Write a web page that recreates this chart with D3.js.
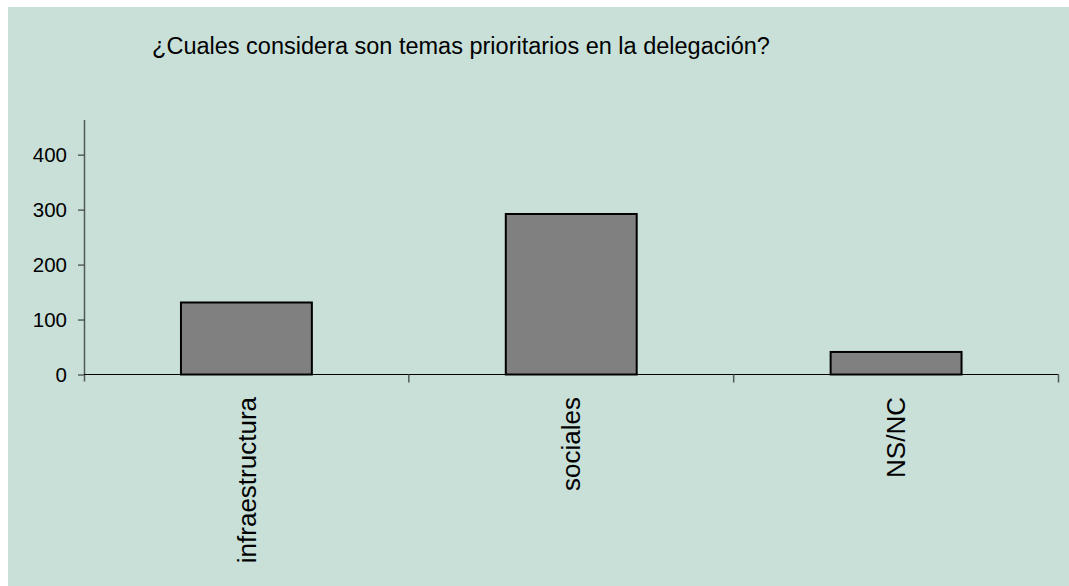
<!DOCTYPE html>
<html>
<head>
<meta charset="utf-8">
<script src="https://cdn.jsdelivr.net/npm/d3@7"></script>
<style>
  html, body { margin: 0; padding: 0; background: #ffffff; }
  svg { display: block; }
</style>
</head>
<body>
<svg id="chart" width="1069" height="586"></svg>
<script>
// Survey responses: priority topics for the delegation
const categories = ["infraestructura", "sociales", "NS/NC"];
const counts = [131, 292, 41];
const yTicks = [0, 100, 200, 300, 400];
const yMax = 463;
const title = "¿Cuales considera son temas prioritarios en la delegación?";

const svg = d3.select("#chart");
const W = 1069, H = 586;
const font = "Liberation Sans, Arial, Helvetica, sans-serif";

// panel background
svg.append("rect")
  .attr("x", 8).attr("y", 7)
  .attr("width", W - 8).attr("height", H - 7)
  .attr("fill", "#c9e0d9");

const plot = { left: 84, right: 1058.5, top: 120, bottom: 374.5 };

const x = d3.scaleBand()
  .domain(categories)
  .range([plot.left, plot.right])
  .paddingInner(0).paddingOuter(0);

const y = d3.scaleLinear()
  .domain([0, yMax])
  .range([plot.bottom, plot.top]);

// title
svg.append("text")
  .attr("x", 461).attr("y", 54)
  .attr("text-anchor", "middle")
  .attr("font-family", font)
  .attr("font-size", 23.5)
  .attr("fill", "#000")
  .text(title);

// bars
const barW = x.bandwidth() * 0.403;
svg.append("g").selectAll("rect")
  .data(categories.map((c, i) => ({ c, v: counts[i] })))
  .join("rect")
  .attr("x", d => x(d.c) + (x.bandwidth() - barW) / 2)
  .attr("y", d => y(d.v))
  .attr("width", barW)
  .attr("height", d => y(0) - y(d.v))
  .attr("fill", "#808080")
  .attr("stroke", "#000")
  .attr("stroke-width", 2);

// y axis
const yAxis = d3.axisLeft(y).tickValues(yTicks).tickSize(6).tickPadding(11);
const gy = svg.append("g")
  .attr("transform", `translate(${plot.left},0)`)
  .call(yAxis);
gy.select(".domain")
  .attr("d", `M0.5,${plot.top}V${plot.bottom + 7}`)
  .attr("stroke", "#4f5a57").attr("stroke-width", 1.5);
gy.selectAll(".tick line").attr("stroke", "#222");
gy.selectAll(".tick text")
  .attr("font-family", font).attr("font-size", 20.5).attr("fill", "#000");

// x axis: ticks at category boundaries
const gx = svg.append("g");
gx.append("line")
  .attr("x1", plot.left).attr("x2", plot.right)
  .attr("y1", plot.bottom).attr("y2", plot.bottom)
  .attr("stroke", "#000").attr("stroke-width", 1.2);
const bounds = categories.map(c => x(c)).concat([x(categories[categories.length - 1]) + x.bandwidth()]);
gx.selectAll("line.tk")
  .data(bounds.slice(1))
  .join("line")
  .attr("class", "tk")
  .attr("x1", d => d).attr("x2", d => d)
  .attr("y1", plot.bottom).attr("y2", plot.bottom + 8)
  .attr("stroke", "#4f5a57").attr("stroke-width", 1.5);

// category labels, rotated
gx.selectAll("text")
  .data(categories)
  .join("text")
  .attr("transform", d => `translate(${x(d) + x.bandwidth() / 2},397) rotate(-90)`)
  .attr("dy", "0.35em")
  .attr("text-anchor", "end")
  .attr("font-family", font)
  .attr("font-size", 26)
  .attr("fill", "#000")
  .text(d => d);
</script>
</body>
</html>
